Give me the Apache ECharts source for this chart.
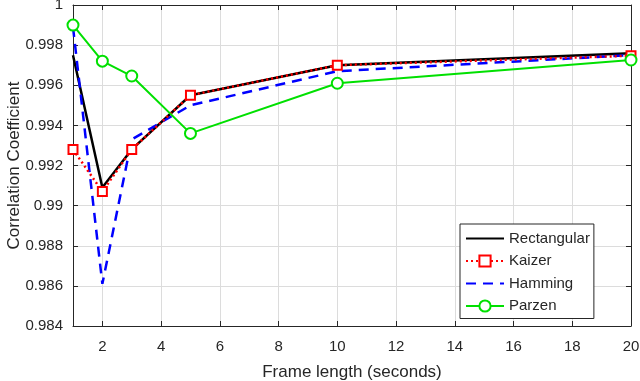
<!DOCTYPE html>
<html>
<head>
<meta charset="utf-8">
<script src="https://cdn.jsdelivr.net/npm/echarts@6/dist/echarts.min.js"></script>
<style>
  html, body { margin: 0; padding: 0; background: #fff; }
  #chart { width: 640px; height: 381px; }
</style>
</head>
<body>
<div id="chart"></div>
<script>
const frameLengths = [1, 2, 3, 5, 10, 20]
const rectangular = [0.9975, 0.9909, 0.9928, 0.9955, 0.9970, 0.9976]
const kaizer = [0.9928, 0.9907, 0.9928, 0.9955, 0.9970, 0.99747]
const hamming = [0.9989, 0.9861, 0.9933, 0.9950, 0.9967, 0.9975]
const parzen = [0.9990, 0.9972, 0.99646, 0.9936, 0.9961, 0.99726]
const xTicks = [2, 4, 6, 8, 10, 12, 14, 16, 18, 20]

const pairs = vals => frameLengths.map((x, i) => [x, vals[i]])
const font = 'Liberation Sans, Arial, sans-serif'
const textColor = '#262626'

const chart = echarts.init(document.getElementById('chart'), null, { renderer: 'canvas' })

const baseX = {
  type: 'value',
  min: 1,
  max: 20,
  axisLine: { onZero: false, lineStyle: { color: '#262626', width: 1 } },
  axisTick: { inside: true, length: 5, customValues: xTicks, lineStyle: { color: '#262626' } },
  splitLine: { show: false },
}
const baseY = {
  type: 'value',
  min: 0.984,
  max: 1,
  interval: 0.002,
  axisLine: { onZero: false, lineStyle: { color: '#262626', width: 1 } },
  axisTick: { inside: true, length: 5, lineStyle: { color: '#262626' } },
  splitLine: { show: false },
}

chart.setOption({
  backgroundColor: '#fff',
  animation: false,
  textStyle: { fontFamily: font },
  grid: { left: 73, right: 9, top: 5, bottom: 55, containLabel: false, outerBoundsMode: 'none' },
  legend: {
    orient: 'vertical',
    left: 460,
    top: 224,
    padding: [7, 4, 5, 5],
    itemWidth: 38,
    itemHeight: 14,
    itemGap: 7.5,
    backgroundColor: '#fff',
    borderColor: '#262626',
    borderWidth: 1,
    borderRadius: 0,
    textStyle: { color: textColor, fontSize: 15, fontFamily: font },
    data: [
      { name: 'Rectangular', itemStyle: { opacity: 0 } },
      { name: 'Kaizer' },
      { name: 'Hamming', itemStyle: { opacity: 0 } },
      { name: 'Parzen' },
    ],
  },
  xAxis: [
    {
      ...baseX,
      position: 'bottom',
      name: 'Frame length (seconds)',
      nameLocation: 'middle',
      nameGap: 38,
      nameMoveOverlap: false,
      nameTextStyle: { color: textColor, fontSize: 17, fontFamily: font },
      axisLabel: { color: textColor, fontSize: 15, margin: 13, customValues: xTicks, fontFamily: font },
      splitLine: { show: true, lineStyle: { color: '#dcdcdc', width: 1 } },
    },
    { ...baseX, position: 'top', axisLabel: { show: false } },
  ],
  yAxis: [
    {
      ...baseY,
      position: 'left',
      name: 'Correlation Coefficient',
      nameLocation: 'middle',
      nameGap: 50,
      nameMoveOverlap: false,
      nameTextStyle: { color: textColor, fontSize: 17, fontFamily: font },
      axisLabel: {
        color: textColor, fontSize: 15, margin: 10, fontFamily: font,
        formatter: v => (Math.abs(v - 1) < 1e-9 ? '1' : String(+v.toFixed(3))),
      },
      splitLine: { show: true, lineStyle: { color: '#dcdcdc', width: 1 } },
    },
    { ...baseY, position: 'right', axisLabel: { show: false } },
  ],
  series: [
    {
      name: 'Rectangular',
      type: 'line',
      data: pairs(rectangular),
      symbol: 'none',
      lineStyle: { color: '#000', width: 2.5 },
      itemStyle: { color: '#000' },
      z: 2,
    },
    {
      name: 'Kaizer',
      type: 'line',
      data: pairs(kaizer),
      symbol: 'rect',
      symbolSize: 9,
      lineStyle: { color: '#ff0000', width: 2.5, type: [2, 3] },
      itemStyle: { color: '#fff', borderColor: '#ff0000', borderWidth: 2 },
      z: 3,
    },
    {
      name: 'Hamming',
      type: 'line',
      data: pairs(hamming),
      symbol: 'none',
      lineStyle: { color: '#0000ff', width: 2.5, type: [10, 7] },
      itemStyle: { color: '#0000ff' },
      z: 2,
    },
    {
      name: 'Parzen',
      type: 'line',
      data: pairs(parzen),
      symbol: 'circle',
      symbolSize: 11,
      lineStyle: { color: '#00e000', width: 2 },
      itemStyle: { color: '#fff', borderColor: '#00e000', borderWidth: 2 },
      z: 4,
    },
  ],
})
</script>
</body>
</html>
